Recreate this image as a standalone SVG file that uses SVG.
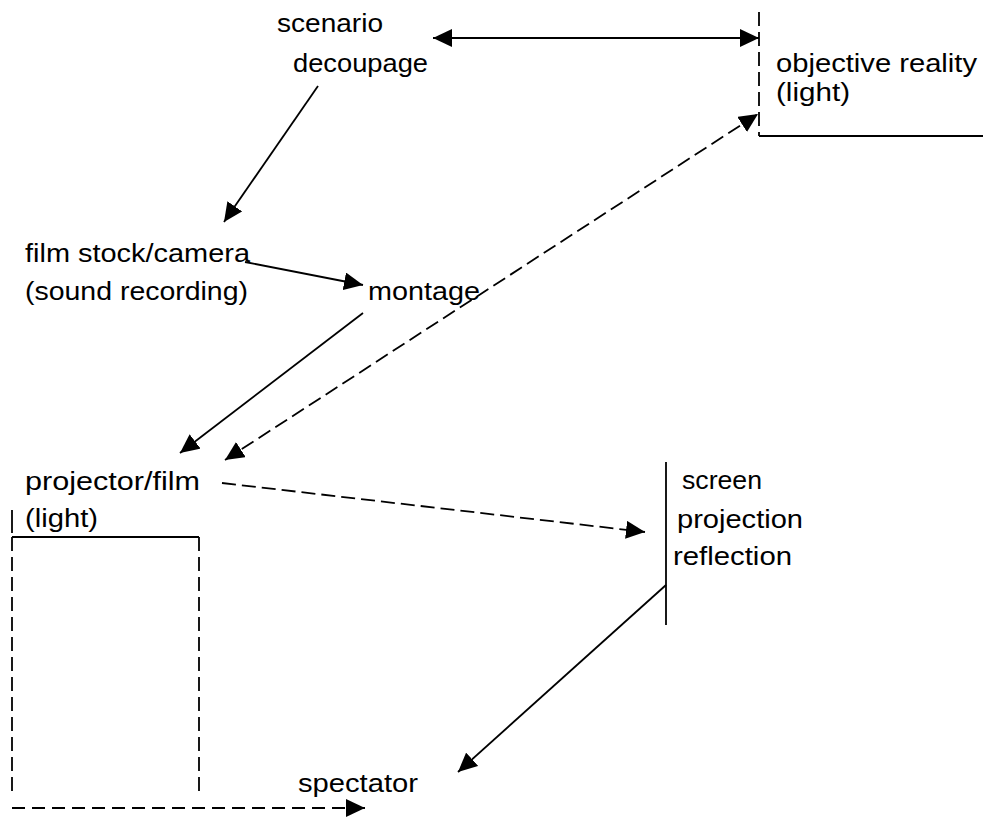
<svg xmlns="http://www.w3.org/2000/svg" width="983" height="817" viewBox="0 0 983 817">
  <style>
    .lbl { font-family: "Liberation Sans", Arial, sans-serif; font-size: 26px; fill: #000; }
    .ln { stroke: #000; stroke-width: 1.8; fill: none; }
    .dash { stroke-dasharray: 14 6; }
    .arr { marker-end: url(#head); }
    .arr2 { marker-start: url(#head); marker-end: url(#head); }
  </style>
  <defs>
    <marker id="head" markerUnits="userSpaceOnUse" markerWidth="20" markerHeight="18" refX="19" refY="9" orient="auto-start-reverse">
      <path d="M0,0 L19,9 L0,18 Z" fill="#000"/>
    </marker>
  </defs>

  <rect width="983" height="817" fill="#fff"/>

  <!-- scenario / decoupage -->
  <g id="scenario">
    <text class="lbl" x="277" y="32" textLength="106" lengthAdjust="spacingAndGlyphs">scenario</text>
    <text class="lbl" x="293" y="72" textLength="135" lengthAdjust="spacingAndGlyphs">decoupage</text>
  </g>

  <!-- objective reality, framed by a dashed side and a base line -->
  <g id="objective-reality">
    <line class="ln dash" x1="759" y1="12" x2="759" y2="136"/>
    <line class="ln" x1="759" y1="136" x2="983" y2="136"/>
    <text class="lbl" x="776" y="72" textLength="201" lengthAdjust="spacingAndGlyphs">objective reality</text>
    <text class="lbl" x="776" y="101" textLength="74" lengthAdjust="spacingAndGlyphs">(light)</text>
  </g>

  <!-- film stock / camera -->
  <g id="film-stock">
    <text class="lbl" x="25" y="262" textLength="225" lengthAdjust="spacingAndGlyphs">film stock/camera</text>
    <text class="lbl" x="25" y="300" textLength="223" lengthAdjust="spacingAndGlyphs">(sound recording)</text>
  </g>

  <!-- montage -->
  <g id="montage">
    <text class="lbl" x="368" y="300" textLength="112" lengthAdjust="spacingAndGlyphs">montage</text>
  </g>

  <!-- projector / film with its light box -->
  <g id="projector">
    <text class="lbl" x="25" y="490" textLength="175" lengthAdjust="spacingAndGlyphs">projector/film</text>
    <text class="lbl" x="25" y="527" textLength="73" lengthAdjust="spacingAndGlyphs">(light)</text>
    <line class="ln" x1="12" y1="510" x2="12" y2="533"/>
    <line class="ln" x1="12" y1="537" x2="199" y2="537"/>
    <line class="ln dash" x1="12" y1="537" x2="12" y2="793"/>
    <line class="ln dash" x1="199" y1="537" x2="199" y2="793"/>
  </g>

  <!-- screen -->
  <g id="screen">
    <line class="ln" x1="666" y1="462" x2="666" y2="625"/>
    <text class="lbl" x="682" y="489" textLength="80" lengthAdjust="spacingAndGlyphs">screen</text>
    <text class="lbl" x="677" y="528" textLength="126" lengthAdjust="spacingAndGlyphs">projection</text>
    <text class="lbl" x="673" y="565" textLength="119" lengthAdjust="spacingAndGlyphs">reflection</text>
  </g>

  <!-- spectator -->
  <g id="spectator">
    <text class="lbl" x="298" y="792" textLength="120" lengthAdjust="spacingAndGlyphs">spectator</text>
  </g>

  <!-- connectors -->
  <g id="connectors">
    <line class="ln arr2" x1="433" y1="38" x2="759" y2="38"/>
    <line class="ln arr" x1="318" y1="86" x2="224" y2="222"/>
    <line class="ln arr" x1="245" y1="262" x2="363" y2="285"/>
    <line class="ln arr" x1="363" y1="313" x2="180" y2="453"/>
    <line class="ln dash arr2" x1="225" y1="460" x2="758" y2="114"/>
    <line class="ln dash arr" x1="222" y1="483" x2="645" y2="532"/>
    <line class="ln arr" x1="666" y1="585" x2="458" y2="772"/>
    <line class="ln arr" style="stroke-dasharray: 13 7" x1="12" y1="808" x2="365" y2="808"/>
  </g>
</svg>
